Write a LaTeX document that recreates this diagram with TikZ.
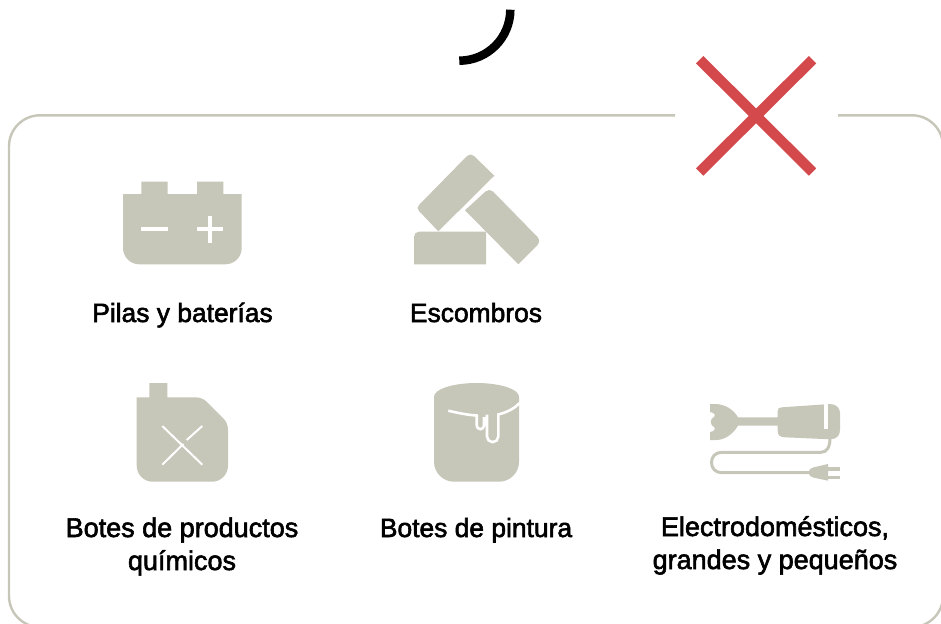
\documentclass[tikz,border=0pt]{standalone}
\usepackage{fontspec}
\setmainfont{Liberation Sans}[FakeBold=2.2]
\definecolor{stone}{HTML}{C6C6B9}
\definecolor{crossred}{HTML}{D4494C}
\tikzset{
  icon/.style={fill=stone,draw=none},
  cut/.style={draw=white,line width=2.2pt,fill=none},
  cutthin/.style={draw=white,line width=2pt,fill=none},
  caption/.style={font=\fontsize{26.4}{33}\selectfont,align=center,text=black,inner sep=0pt,anchor=base},
  captionwide/.style={caption,font=\fontsize{27}{33}\selectfont},
  framey/.style={draw=stone,line width=2.4pt},
  xarm/.style={draw=crossred,line width=10.4pt},
}
\begin{document}
\begin{tikzpicture}[x=1pt,y=-1pt]
\useasboundingbox (0,0) rectangle (941,623);
\begin{scope}
\clip (0,0) rectangle (941,623);
\draw[framey] (675,115.3) -- (40,115.3) arc[start angle=270,end angle=180,radius=31] -- (9,596) arc[start angle=180,end angle=90,radius=31] -- (912,627) arc[start angle=90,end angle=0,radius=31] -- (943,146.3) arc[start angle=0,end angle=-90,radius=31] -- (838,115.3);
\end{scope}
% top arc
\draw[line width=8.5pt] (459.3,60.7) arc[start angle=90,end angle=0,radius=51];
% red cross
\draw[xarm] (699.7,59.7) -- (812.5,172);
\draw[xarm] (812.5,59.7) -- (699.7,172);
% battery
\fill[icon] (123,194) -- (141.3,194) -- (141.3,181.7) -- (167.7,181.7) -- (167.7,194) -- (197,194) -- (197,181.7) -- (223.3,181.7) -- (223.3,194) -- (241.7,194) -- (241.7,248) arc[start angle=0,end angle=90,radius=16.3] -- (139.3,264.3) arc[start angle=90,end angle=180,radius=16.3] -- cycle;
\draw[cut,line width=3.2pt] (141.3,229) -- (167.7,229);
\draw[cut,line width=3.2pt] (197,229) -- (223.3,229) (210,216) -- (210,242.7);
% rubble
\fill[icon] (414,264.3) -- (414,236.7) arc[start angle=180,end angle=270,radius=5] -- (486,231.7) -- (486,264.3) -- cycle;
\fill[icon] (494.3,175.7) -- (438.3,231.3) -- (419,211) .. controls (417,209) and (417,207) .. (419,205) -- (467,156) .. controls (469,154) and (472,154) .. (474,156) -- cycle;
\fill[icon] (465,210.3) -- (485.5,191.5) .. controls (487.5,189.5) and (491,189.5) .. (493,191.5) -- (537.5,237) .. controls (539.5,239) and (539.5,243) .. (537.5,245) -- (518.3,264.3) -- cycle;
% canister
\fill[icon] (136.7,397.3) -- (149.3,397.3) -- (149.3,383) -- (167.3,383) -- (167.3,397.3) -- (195,397.3) .. controls (200,397.3) and (204,399) .. (207,402) -- (223,418) .. controls (226.5,421.5) and (228,425) .. (228,431) -- (228,465.7) arc[start angle=0,end angle=90,radius=16] -- (152.7,481.7) arc[start angle=90,end angle=180,radius=16] -- cycle;
\draw[cutthin] (162.3,426) -- (202.3,464.7);
\draw[cutthin] (202.3,426) -- (186.7,440) (183.3,444) -- (162.3,464.7);
% paint can
\fill[icon] (434,396.7) arc[start angle=180,end angle=360,x radius=42.5,y radius=13.7] -- (519,461.7) arc[start angle=0,end angle=90,radius=20] -- (454,481.7) arc[start angle=90,end angle=180,radius=20] -- cycle;
\draw[cut,line width=2.6pt] (448.3,410.7) .. controls (458,413) and (468,415) .. (476.7,415.5) -- (476.7,425.5) arc[start angle=180,end angle=0,radius=3.65] -- (484,417)
 (487,414.5) -- (487,436.5) arc[start angle=180,end angle=0,radius=5.65] -- (498.3,414.5) .. controls (508,412) and (515,408) .. (520,402.7);
% blender
\fill[icon] (710,404) -- (716,404) .. controls (725,404.5) and (733,409) .. (738,417.3) -- (777.7,417.3) -- (777.7,411) .. controls (777.7,408.5) and (779,407.3) .. (782,407.3) -- (830,404) .. controls (836,404) and (840,408) .. (840,413) -- (840,430) .. controls (840,436) and (836,439.3) .. (830,439.3) -- (785,437.3) .. controls (780,437.3) and (777.7,435) .. (777.7,431) -- (777.7,425.7) -- (738,425.7) .. controls (733,434) and (725,440) .. (716,440) -- (710,440) -- (710,432) .. controls (714,431.5) and (716,429) .. (714,427) .. controls (710,426) and (709.5,418) .. (714,417) .. controls (716,415) and (714,412.5) .. (710,412) -- cycle;
\fill[white] (824.3,403) rectangle (827.7,428.7);
\draw[draw=stone,line width=3pt,fill=none] (830,438) .. controls (830,447) and (827,452.3) .. (821,452.3) -- (722,452.3) .. controls (715,452.3) and (711.5,457) .. (711.5,462.5) .. controls (711.5,468) and (715,472.7) .. (722,472.7) -- (812,472.7);
\fill[icon] (809,472.5) .. controls (809,469) and (811,468) .. (813,467.5) -- (828,464) -- (828,480.7) -- (813,477.5) .. controls (811,477) and (809,476) .. (809,472.5) -- cycle;
\fill[icon] (827,467.3) rectangle (840,470.5);
\fill[icon] (827,475.8) rectangle (840,479);
% labels
\node[caption] (n1) at (182.5,322) {Pilas y baterías};
\node[caption] (n2) at (476,322) {Escombros};
\node[captionwide] (n3) at (182,570) {Botes de productos\\químicos};
\node[caption] (n4) at (476,537) {Botes de pintura};
\node[captionwide] (n5) at (775,569) {Electrodomésticos,\\grandes y pequeños};
\end{tikzpicture}
\end{document}
